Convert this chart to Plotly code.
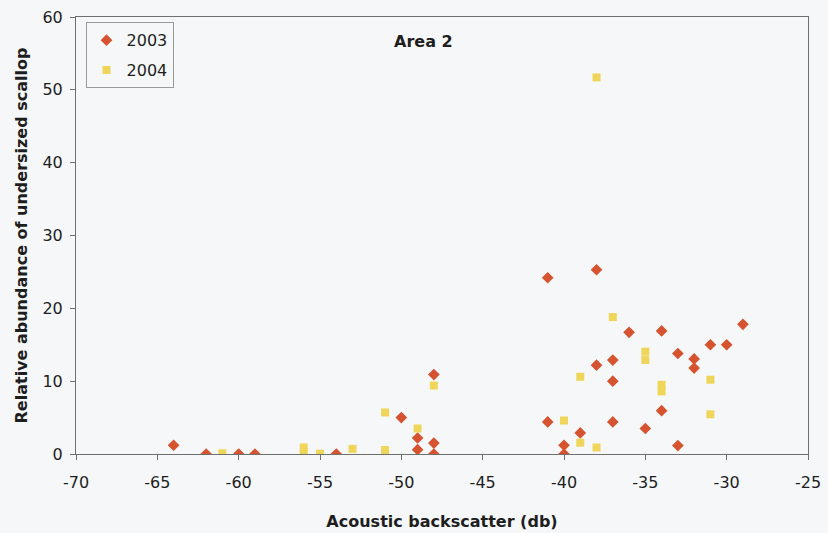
import plotly.graph_objects as go

# Scallop survey, Area 2: acoustic backscatter (db) vs relative abundance
backscatter_2003 = [-64, -62, -60, -59, -54, -50, -49, -49, -48, -48, -48,
                    -41, -41, -40, -40, -39, -38, -38, -37, -37, -37, -36,
                    -35, -34, -34, -33, -33, -32, -32, -31, -30, -29]
abundance_2003 = [1.2, 0, 0, 0, 0, 5.0, 2.2, 0.6, 10.9, 1.5, 0,
                  24.2, 4.4, 1.2, 0, 2.9, 25.3, 12.2, 12.9, 10.0, 4.4, 16.7,
                  3.5, 16.9, 5.95, 13.8, 1.15, 13.05, 11.8, 15.0, 15.0, 17.8]

backscatter_2004 = [-61, -56, -56, -55, -53, -51, -51, -49, -48, -40, -39,
                    -39, -38, -38, -37, -35, -35, -34, -34, -31, -31]
abundance_2004 = [0.1, 0.9, 0.2, 0.05, 0.7, 5.7, 0.55, 3.5, 9.4, 4.6, 10.6,
                  1.55, 51.7, 0.9, 18.8, 14.05, 12.9, 9.5, 8.6, 10.2, 5.45]

x_ticks = [-70, -65, -60, -55, -50, -45, -40, -35, -30, -25]
y_ticks = [0, 10, 20, 30, 40, 50, 60]

FONT = "DejaVu Sans, Liberation Sans, Arial, sans-serif"

fig = go.Figure()
fig.add_trace(go.Scatter(
    x=backscatter_2003, y=abundance_2003, mode="markers", name="2003",
    legendgroup="y2003",
    marker=dict(symbol="diamond", size=9, color="#D5532F"),
))
fig.add_trace(go.Scatter(
    x=backscatter_2004, y=abundance_2004, mode="markers", name="2004",
    legendgroup="y2004",
    marker=dict(symbol="square", size=8, color="#EFD65A"),
))

fig.update_layout(
    width=828, height=533,
    margin=dict(l=76, r=20, t=17, b=79),
    paper_bgcolor="#F6F7F9",
    plot_bgcolor="#F6F7F9",
    font=dict(family=FONT, size=16, color="#1E1E1E"),
    showlegend=True,
    legend=dict(
        x=0.013, y=0.988, xanchor="left", yanchor="top",
        bgcolor="rgba(0,0,0,0)", bordercolor="#9A9A9A", borderwidth=1,
        font=dict(size=16), itemwidth=30, tracegroupgap=6,
    ),
    annotations=[dict(
        text="<b>Area 2</b>", x=0.475, y=0.97, xref="paper", yref="paper",
        showarrow=False, font=dict(size=16, color="#1E1E1E"),
    )],
)

fig.update_xaxes(
    range=[-70, -25], tickvals=x_ticks, ticktext=[str(v) for v in x_ticks],
    showgrid=False, zeroline=False, automargin=False,
    showline=True, linecolor="#6F6F6F", linewidth=1, mirror=True,
    ticks="outside", ticklen=5, tickcolor="#6F6F6F",
    tickfont=dict(size=16), ticklabelstandoff=9,
    title=dict(text="<b>Acoustic backscatter (db)</b>", font=dict(size=16), standoff=24),
)
fig.update_yaxes(
    range=[0, 60], tickvals=y_ticks, ticktext=[str(v) for v in y_ticks],
    showgrid=False, zeroline=False, automargin=False,
    showline=True, linecolor="#6F6F6F", linewidth=1, mirror=True,
    ticks="outside", ticklen=5, tickcolor="#6F6F6F",
    tickfont=dict(size=16), ticklabelstandoff=4,
    title=dict(text="<b>Relative abundance of undersized scallop</b>", font=dict(size=16), standoff=10),
)

fig.write_html("out.html")
